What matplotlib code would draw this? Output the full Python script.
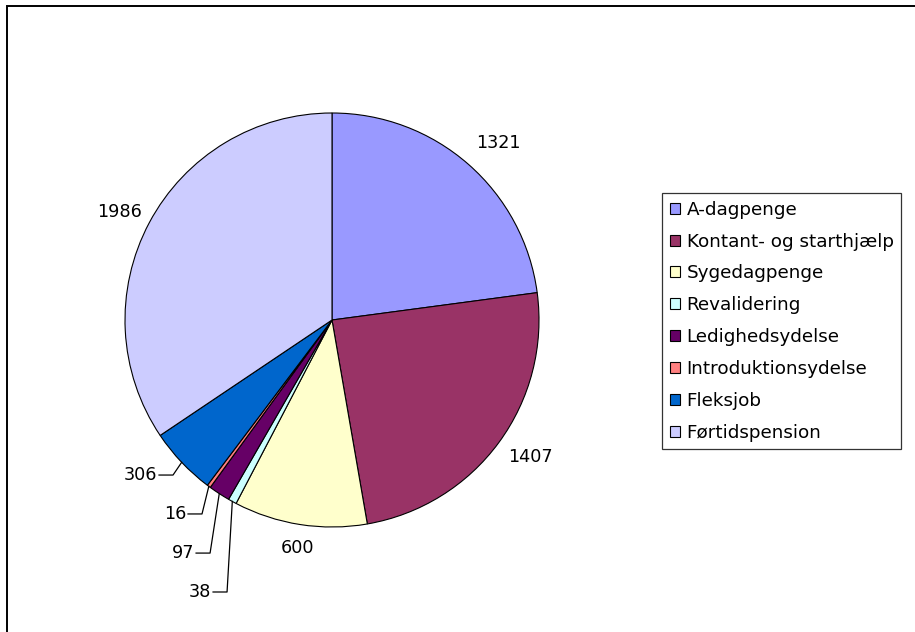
import matplotlib
matplotlib.use("Agg")
from matplotlib import pyplot as plt
from matplotlib.patches import Rectangle
import numpy as np

categories = ['A-dagpenge', 'Kontant- og starthjælp', 'Sygedagpenge', 'Revalidering',
              'Ledighedsydelse', 'Introduktionsydelse', 'Fleksjob', 'Førtidspension']
values = [1321, 1407, 600, 38, 97, 16, 306, 1986]
colors = ['#9999FF', '#993366', '#FFFFCC', '#CCFFFF', '#660066', '#FF8080', '#0066CC', '#CCCCFF']

W, H = 915, 632
R = 207.0
cx, cy = 332, 320

# label layout (pie radius units, pie center = 0,0)
big_label_pos = {0: (0.805, 0.853), 1: (0.961, -0.662), 2: (-0.169, -1.10), 7: (-1.024, 0.522)}
# elbow of the leader line for the small slices
small_label_elbow = {6: (-0.768, -0.749), 5: (-0.628, -0.937), 4: (-0.589, -1.126), 3: (-0.507, -1.314)}

plt.rcParams['font.family'] = 'DejaVu Sans'
fig = plt.figure(figsize=(W / 100, H / 100), dpi=100)
ax = fig.add_axes([0, 0, 1, 1])

wedges, _ = ax.pie(values, colors=colors, startangle=90, counterclock=False, radius=1,
                   wedgeprops={'edgecolor': 'black', 'linewidth': 0.8})

ax.set_xlim(-cx / R, (W - cx) / R)
ax.set_ylim(-(H - cy) / R, cy / R)
ax.set_aspect('auto')
ax.axis('off')

fs = 12.7
for i, (x, y) in big_label_pos.items():
    ax.text(x, y, str(values[i]), fontsize=fs, ha='center', va='center')

for i, (ex, ey) in small_label_elbow.items():
    w = wedges[i]
    mid = np.deg2rad((w.theta1 + w.theta2) / 2)
    px, py = np.cos(mid), np.sin(mid)
    hx = ex - 14 / R
    ax.plot([px, ex, hx], [py, ey, ey], color='black', linewidth=0.9)
    ax.text(hx - 2 / R, ey, str(values[i]), fontsize=fs, ha='right', va='center')

leg = fig.legend(wedges, categories, loc='upper left',
                 bbox_to_anchor=(662 / W, 1 - 193 / H), borderaxespad=0,
                 fontsize=13.2, frameon=True, fancybox=False,
                 handlelength=0.55, handleheight=0.55, handletextpad=0.38,
                 labelspacing=0.755, borderpad=0.42)
leg.get_frame().set_edgecolor('black')
leg.get_frame().set_linewidth(0.9)
for h in leg.legend_handles:
    h.set_edgecolor('black')
    h.set_linewidth(0.8)

# outer chart border
fig.patches.append(Rectangle((6.5 / W, -0.1), 2, 1.1 - 5.5 / H, transform=fig.transFigure,
                             fill=False, edgecolor='black', linewidth=1.4))

fig.savefig('out.png', dpi=100)
